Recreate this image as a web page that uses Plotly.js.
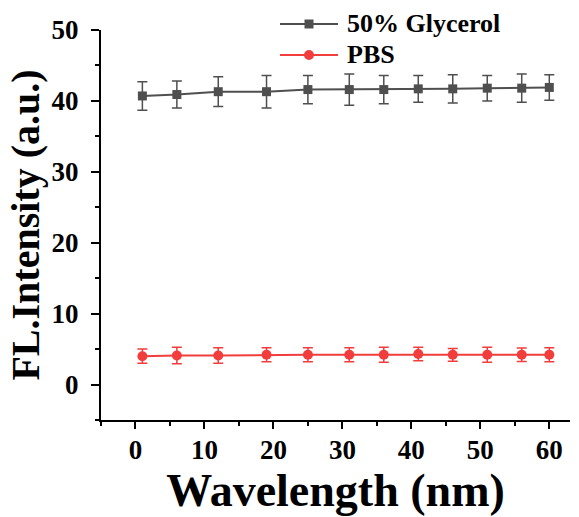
<!DOCTYPE html>
<html>
<head>
<meta charset="utf-8">
<script src="https://cdn.plot.ly/plotly-3.0.1.min.js"></script>
<style>html,body{margin:0;padding:0;background:#fff;}#chart{width:579px;height:517px;}</style>
</head>
<body>
<div id="chart"></div>
<script>
const xValues = [1, 6, 12, 19, 25, 31, 36, 41, 46, 51, 56, 60];
const glycerolY = [40.7, 40.9, 41.3, 41.3, 41.6, 41.6, 41.6, 41.7, 41.7, 41.8, 41.8, 41.9];
const glycerolErr = [2.0, 1.9, 2.1, 2.3, 2.0, 2.2, 2.0, 1.9, 2.0, 1.8, 2.0, 1.8];
const pbsY = [4.0, 4.1, 4.1, 4.2, 4.2, 4.2, 4.2, 4.3, 4.2, 4.2, 4.2, 4.2];
const pbsErr = [1.0, 1.15, 1.1, 1.0, 1.0, 1.0, 1.05, 0.95, 0.9, 1.05, 0.95, 1.0];
const seriesNames = ["50% Glycerol", "PBS"];

const font = "Liberation Serif, Times New Roman, serif";
const grey = "#4f4f4f";
const red = "#f23d3d";
const colors = [grey, red];

const traces = [
  {
    x: xValues, y: glycerolY, name: seriesNames[0], type: "scatter", mode: "lines+markers",
    line: {color: grey, width: 2},
    marker: {symbol: "square", size: 9, color: grey},
    error_y: {type: "data", array: glycerolErr, visible: true, color: grey, thickness: 1.5, width: 5}
  },
  {
    x: xValues, y: pbsY, name: seriesNames[1], type: "scatter", mode: "lines+markers",
    line: {color: red, width: 2},
    marker: {symbol: "circle", size: 10, color: red},
    error_y: {type: "data", array: pbsErr, visible: true, color: red, thickness: 1.5, width: 5}
  }
];

// Custom legend (paper coordinates)
const legRows = [1.0154, 0.9359];
const legLine = [0.3817, 0.5053], legMid = 0.4435, legText = 0.5203;
const shapes = [], annotations = [];
seriesNames.forEach((name, i) => {
  const y = legRows[i];
  shapes.push({type: "line", xref: "paper", yref: "paper", x0: legLine[0], x1: legLine[1], y0: y, y1: y,
    line: {color: colors[i], width: 2}});
  shapes.push({type: i === 0 ? "rect" : "circle", xref: "paper", yref: "paper",
    xsizemode: "pixel", ysizemode: "pixel", xanchor: legMid, yanchor: y,
    x0: i === 0 ? -4.5 : -5, x1: i === 0 ? 4.5 : 5, y0: i === 0 ? -4.5 : -5, y1: i === 0 ? 4.5 : 5,
    fillcolor: colors[i], line: {color: colors[i], width: 0}});
  annotations.push({xref: "paper", yref: "paper", x: legText, y: y, xanchor: "left", yanchor: "middle",
    text: name, showarrow: false, font: {family: font, size: 26, color: "#000", weight: "bold"}});
});

const layout = {
  width: 579, height: 517,
  margin: {l: 101, r: 9, t: 30, b: 97},
  paper_bgcolor: "#fff", plot_bgcolor: "#fff",
  font: {family: font, color: "#000"},
  showlegend: false,
  shapes: shapes,
  annotations: annotations,
  xaxis: {
    range: [-5, 63], showgrid: false, zeroline: false,
    showline: true, linecolor: "#000", linewidth: 2,
    ticks: "outside", ticklen: 7, tickwidth: 2, tickcolor: "#000",
    tickmode: "linear", tick0: 0, dtick: 10, ticklabelstandoff: -2,
    minor: {dtick: 5, tick0: 0, ticks: "outside", ticklen: 4, tickwidth: 2, tickcolor: "#000"},
    tickfont: {family: font, size: 27, color: "#000", weight: "bold"},
    title: {text: "Wavelength (nm)", font: {family: font, size: 46, color: "#000", weight: "bold"}, standoff: 0}
  },
  yaxis: {
    range: [-5, 50], showgrid: false, zeroline: false,
    showline: true, linecolor: "#000", linewidth: 2,
    ticks: "outside", ticklen: 8, tickwidth: 2, tickcolor: "#000",
    tickmode: "linear", tick0: 0, dtick: 10, ticklabelstandoff: 7,
    minor: {dtick: 5, tick0: 0, ticks: "outside", ticklen: 4, tickwidth: 2, tickcolor: "#000"},
    tickfont: {family: font, size: 27, color: "#000", weight: "bold"},
    title: {text: "FL.Intensity (a.u.)", font: {family: font, size: 40, color: "#000", weight: "bold"}, standoff: 0}
  }
};

Plotly.newPlot("chart", traces, layout, {displayModeBar: false, staticPlot: true});
</script>
</body>
</html>
